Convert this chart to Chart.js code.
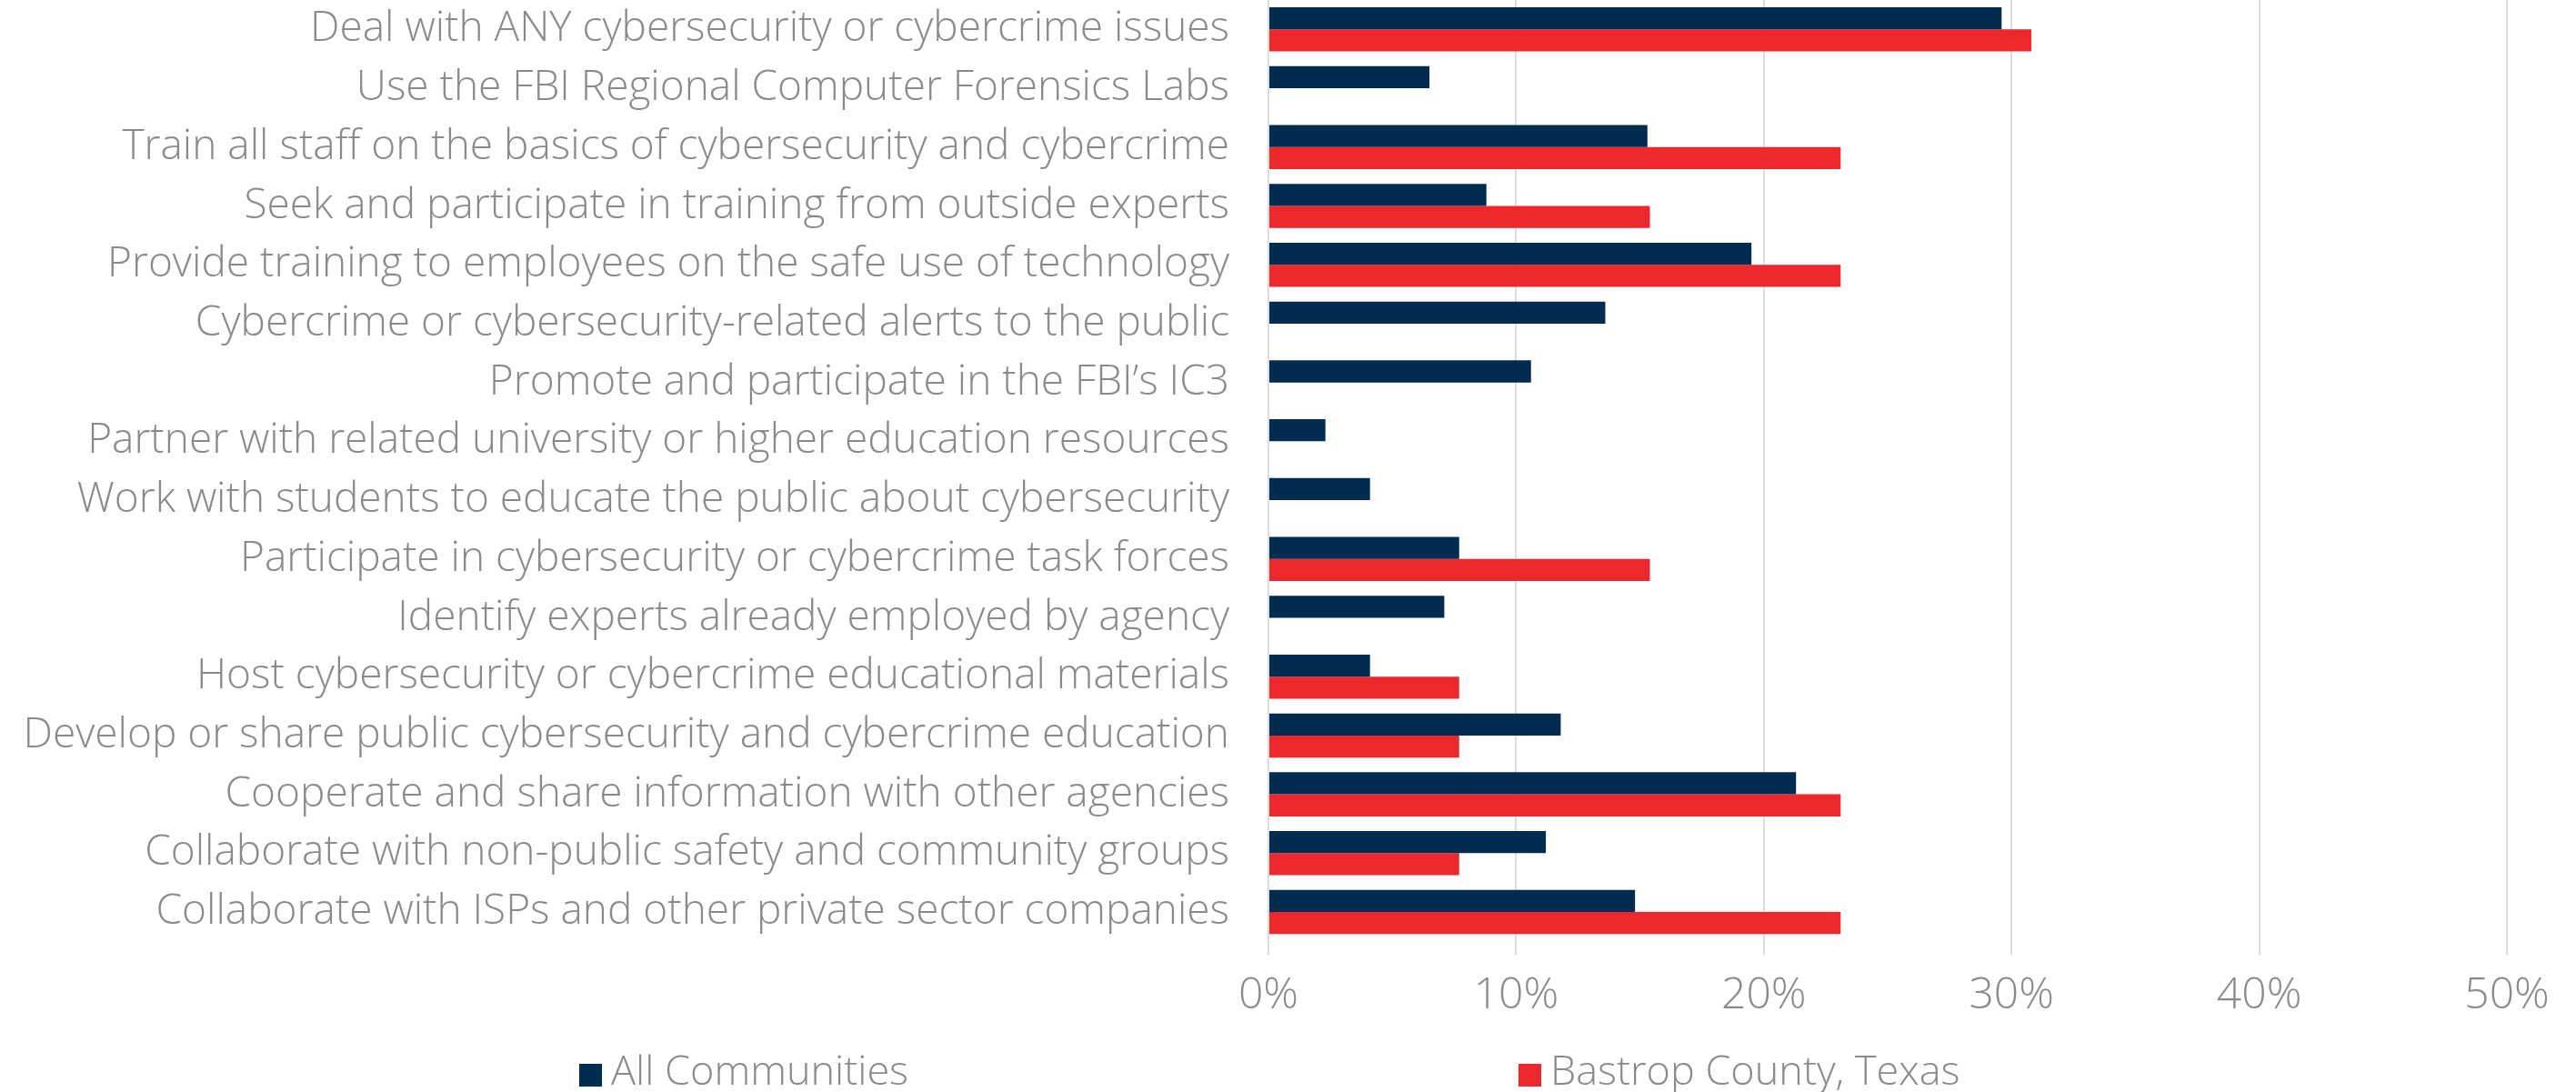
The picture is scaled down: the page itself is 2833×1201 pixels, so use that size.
<!DOCTYPE html>
<html>
<head>
<meta charset="utf-8">
<script src="https://cdn.jsdelivr.net/npm/chart.js@4/dist/chart.umd.min.js"></script>
<style>
  html, body { margin: 0; padding: 0; background: #fff; }
  #wrap { position: relative; width: 2833px; height: 1201px; }
  #legend { position: absolute; left: 0; top: 1150px; width: 2833px; height: 51px;
            font-family: 'Open Sans', Lato, sans-serif; font-weight: 300; font-size: 45px; color: #8a8a8a; }
  .item { position: absolute; top: 0; white-space: nowrap; line-height: 51px; }
  .box { display: inline-block; width: 25px; height: 25px; vertical-align: -2px; margin-right: 10px; }
</style>
</head>
<body>
<div id="wrap">
  <canvas id="chart" width="2833" height="1201"></canvas>
  <div id="legend">
    <div class="item" style="left:637px"><span class="box" style="background:#012b4f"></span>All Communities</div>
    <div class="item" style="left:1670px"><span class="box" style="background:#ed282d"></span>Bastrop County, Texas</div>
  </div>
</div>
<script>
// Categories, top to bottom
const categories = [
    'Deal with ANY cybersecurity or cybercrime issues',
    'Use the FBI Regional Computer Forensics Labs',
    'Train all staff on the basics of cybersecurity and cybercrime',
    'Seek and participate in training from outside experts',
    'Provide training to employees on the safe use of technology',
    'Cybercrime or cybersecurity-related alerts to the public',
    'Promote and participate in the FBI\u2019s IC3',
    'Partner with related university or higher education resources',
    'Work with students to educate the public about cybersecurity',
    'Participate in cybersecurity or cybercrime task forces',
    'Identify experts already employed by agency',
    'Host cybersecurity or cybercrime educational materials',
    'Develop or share public cybersecurity and cybercrime education',
    'Cooperate and share information with other agencies',
    'Collaborate with non-public safety and community groups',
    'Collaborate with ISPs and other private sector companies'
];

// Percent of agencies
const allCommunities = [29.6, 6.5, 15.3, 8.8, 19.5, 13.6, 10.6, 2.3, 4.1, 7.7, 7.1, 4.1, 11.8, 21.3, 11.2, 14.8];
const bastropCounty = [30.8, null, 23.1, 15.4, 23.1, null, null, null, null, 15.4, null, 7.7, 7.7, 23.1, 7.7, 23.1];

const xTicks = [0, 10, 20, 30, 40, 50];

const fontFamily = "'Open Sans', Lato, sans-serif";
const gray = '#8a8a8a';

const ctx = document.getElementById('chart').getContext('2d');
new Chart(ctx, {
    type: 'bar',
    data: {
        labels: categories,
        datasets: [{
            label: 'All Communities',
            data: allCommunities,
            backgroundColor: '#012b4f',
            borderWidth: 0
        }, {
            label: 'Bastrop County, Texas',
            data: bastropCounty,
            backgroundColor: '#ed282d',
            borderWidth: 0
        }]
    },
    options: {
        indexAxis: 'y',
        responsive: false,
        animation: false,
        categoryPercentage: 0.75,
        barPercentage: 1.0,
        layout: { padding: { top: 0, right: 76, bottom: 61, left: 0 } },
        plugins: {
            legend: { display: false },
            tooltip: { enabled: false }
        },
        scales: {
            x: {
                min: 0,
                max: 50,
                afterBuildTicks: function(scale) {
                    scale.ticks = xTicks.map(v => ({ value: v }));
                },
                ticks: {
                    callback: v => v + '%',
                    color: gray,
                    font: { family: fontFamily, size: 48, weight: 300 },
                    padding: 16,
                    maxRotation: 0
                },
                grid: { color: '#dedede', lineWidth: 2, drawTicks: true, tickLength: 15 },
                border: { display: false }
            },
            y: {
                afterFit: function(scale) {
                    scale.width = 1395;
                    scale.paddingTop = 0;
                    scale.paddingBottom = 0;
                },
                ticks: {
                    color: gray,
                    font: { family: fontFamily, size: 46, weight: 300 },
                    padding: 43,
                    autoSkip: false
                },
                grid: { display: false, drawTicks: false },
                border: { display: false }
            }
        }
    }
});
</script>
</body>
</html>
